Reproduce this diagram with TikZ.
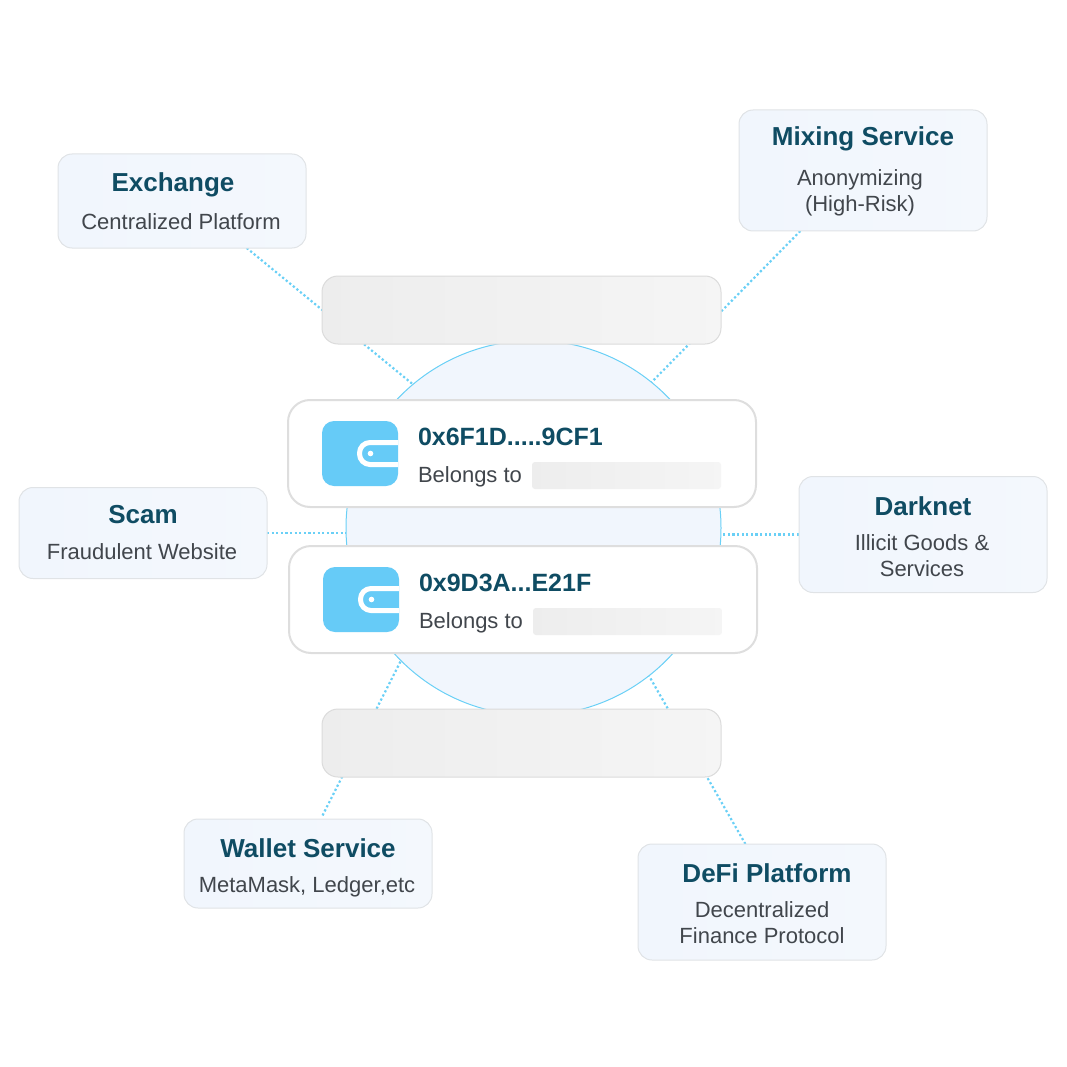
\documentclass[tikz,border=0pt]{standalone}
\usepackage{fontspec}
\setmainfont{Liberation Sans}
\usetikzlibrary{positioning, backgrounds, calc}
\definecolor{walletteal}{HTML}{0F4C63}
\definecolor{walletbody}{HTML}{41464C}
\definecolor{walletsky}{HTML}{66CBF7}
\definecolor{walletline}{HTML}{6AD0F6}
\definecolor{walletrim}{HTML}{E0E3E6}
\definecolor{walletpale}{HTML}{F1F6FD}
\tikzset{
  walleticon/.pic={
    \node[iconbox] (-body) {};
    \draw[white, line width=5pt, rounded corners=10.5pt] (38,-11) -- (-0.5,-11) -- (-0.5,11) -- (38,11);
    \fill[white] (10.5,0) circle (2.8pt);
  }
}
\begin{document}
\begin{tikzpicture}[
  x=1pt, y=-1pt,
  every node/.style={inner sep=0pt, outer sep=0pt},
  hubdisc/.style={circle, minimum size=375pt, draw=walletline, line width=1pt, fill=walletpale},
  infobox/.style={rectangle, rounded corners=14pt, minimum width=248pt, draw=walletrim, line width=1pt, left color=walletpale, right color=walletpale!80!white},
  blankbox/.style={rectangle, rounded corners=16pt, minimum width=399pt, minimum height=68pt, draw=black!14, line width=1pt, left color=black!7, right color=black!4},
  cardbox/.style={rectangle, rounded corners=22pt, minimum width=468pt, minimum height=107pt, draw=black!13, line width=2pt, fill=white},
  iconbox/.style={rectangle, rounded corners=12pt, minimum width=76pt, minimum height=65pt, fill=walletsky},
  hidebar/.style={rectangle, rounded corners=3pt, minimum width=189pt, minimum height=27pt, left color=black!7, right color=black!4},
  titletext/.style={anchor=base, text=walletteal, font=\fontsize{26}{30}\selectfont\bfseries},
  subtext/.style={text=walletbody, align=center, font=\fontsize{22}{26}\selectfont},
  addrtext/.style={anchor=base west, text=walletteal, font=\fontsize{25}{30}\selectfont\bfseries},
  ownertext/.style={anchor=base west, text=walletbody, font=\fontsize{22}{26}\selectfont},
  linkline/.style={walletline, line width=2.2pt, dash pattern=on 2.2pt off 2.4pt}
]
\useasboundingbox (0,0) rectangle (1066,1067);

\node[hubdisc] (hub) at (533.5,528) {};

\node[blankbox] (blanktop) at (521.5,310) {};
\node[blankbox] (blankbot) at (521.5,743) {};

\node[cardbox] (cardtop) at (522,453.5) {};
\node[cardbox] (cardbot) at (523,599.5) {};

\pic (icontop) at (360,453.5) {walleticon};
\pic (iconbot) at (361,599.5) {walleticon};

\node[addrtext] (addrtop) at (418,445) {0x6F1D.....9CF1};
\node[ownertext] (ownertop) at (418,482) {Belongs to};
\node[hidebar] (bartop) at (626.5,475.5) {};
\node[addrtext] (addrbot) at (419,591) {0x9D3A...E21F};
\node[ownertext] (ownerbot) at (419,628) {Belongs to};
\node[hidebar] (barbot) at (627.5,621.5) {};

\node[infobox, minimum height=94pt] (exchange) at (182,201) {};
\node[titletext] (exchangetitle) at (173,192) {Exchange};
\node[subtext] (exchangesub) at (181,222) {Centralized Platform};

\node[infobox, minimum height=121pt] (mixing) at (863,170.5) {};
\node[titletext] (mixingtitle) at (863,146) {Mixing Service};
\node[subtext] (mixingsub) at (860,193) {Anonymizing\\(High-Risk)};

\node[infobox, minimum height=91pt] (scam) at (143,533) {};
\node[titletext] (scamtitle) at (143,523) {Scam};
\node[subtext] (scamsub) at (142,552) {Fraudulent Website};

\node[infobox, minimum height=116pt] (darknet) at (923,534.5) {};
\node[titletext] (darknettitle) at (923,515) {Darknet};
\node[subtext] (darknetsub) at (922,556) {Illicit Goods \&\\Services};

\node[infobox, minimum height=89pt] (walletsvc) at (308,863.5) {};
\node[titletext] (walletsvctitle) at (308,857) {Wallet Service};
\node[subtext] (walletsvcsub) at (307,887) {MetaMask, Ledger,etc};

\node[infobox, minimum height=116pt] (defi) at (762,902) {};
\node[titletext] (defititle) at (767,882) {DeFi Platform};
\node[subtext] (defisub) at (762,923) {Decentralized\\Finance Protocol};

\begin{scope}[on background layer]
  \draw[linkline] (exchange.-36) -- (hub.130);
  \draw[linkline] (mixing.-136) -- (hub.51);
  \draw[linkline] (scam.east) -- (scam.east -| hub.west);
  \draw[linkline] (darknet.west) -- (darknet.west -| hub.east);
  \draw[linkline, shorten <=4pt] (walletsvc.74) -- (hub.225);
  \draw[linkline] (defi.106) -- (hub.-52);
\end{scope}
\end{tikzpicture}
\end{document}
